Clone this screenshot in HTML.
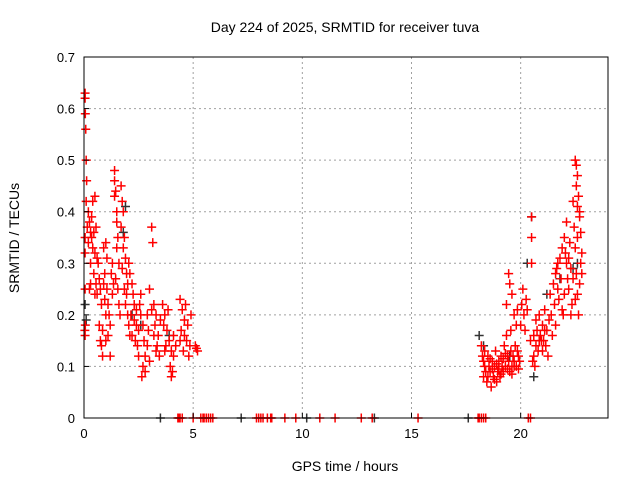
<!DOCTYPE html>
<html><head><meta charset="utf-8"><style>
body{margin:0;background:#fff;}
svg{display:block;font-family:"Liberation Sans",sans-serif;}
</style></head><body>
<svg id="chart" width="640" height="480">
<text x="345" y="32" font-size="14" text-anchor="middle">Day 224 of 2025, SRMTID for receiver tuva</text>
<text x="345" y="471" font-size="14" text-anchor="middle">GPS time / hours</text>
<text transform="translate(19,238) rotate(-90)" font-size="14" text-anchor="middle">SRMTID / TECUs</text>
<g id="grid"></g><g id="marks"></g><g id="axes"></g>
</svg>
<script>
const xTicks=[0,5,10,15,20];
const yTicks=[0,0.1,0.2,0.3,0.4,0.5,0.6,0.7];
const yTickLabels=["0","0.1","0.2","0.3","0.4","0.5","0.6","0.7"];
const blackObs=[[0.05,0.22],[0.1,0.19],[1.8,0.36],[1.9,0.41],[2.2,0.2],[2.6,0.18],[3.9,0.16],[18.1,0.16],[18.3,0.14],[19.5,0.12],[20.3,0.3],[20.5,0.39],[20.6,0.08],[21.2,0.24],[21.8,0.27],[22.4,0.29],[22.6,0.3],[3.5,0],[7.2,0],[13.3,0],[17.6,0],[10.2,0]];
const redObs=[
[0.05,0.63],[0.05,0.62],[0.06,0.59],[0.08,0.56],[0.1,0.5],[0.12,0.46],[0.1,0.42],[0.05,0.35],[0.05,0.32],[0.05,0.25],[0.06,0.18],[0.04,0.17],[0.05,0.16],
[0.2,0.4],[0.25,0.38],[0.3,0.36],[0.35,0.35],[0.4,0.33],[0.3,0.3],[0.45,0.28],[0.25,0.25],[0.5,0.24],[0.4,0.42],[0.5,0.43],[0.55,0.37],[0.6,0.31],
[0.15,0.37],[0.2,0.34],[0.35,0.39],[0.45,0.36],[0.5,0.32],[0.55,0.26],[0.6,0.24],[0.3,0.26],
[0.65,0.3],[0.7,0.27],[0.75,0.25],[0.8,0.22],[0.7,0.18],[0.75,0.15],[0.8,0.14],[0.85,0.12],[0.9,0.26],[0.95,0.28],[1.0,0.34],[0.9,0.33],
[0.95,0.23],[1.0,0.2],[0.85,0.17],[1.0,0.15],[1.05,0.31],
[1.05,0.25],[1.1,0.22],[1.15,0.2],[1.2,0.18],[1.1,0.16],[1.2,0.12],[1.25,0.28],[1.3,0.3],[1.35,0.26],
[1.4,0.48],[1.4,0.46],[1.45,0.44],[1.4,0.43],[1.5,0.4],[1.5,0.38],[1.55,0.35],[1.5,0.33],[1.6,0.3],
[1.3,0.24],[1.45,0.27],[1.55,0.25],[1.6,0.22],[1.65,0.2],
[1.7,0.45],[1.75,0.42],[1.8,0.4],[1.7,0.37],[1.85,0.35],[1.8,0.33],[1.9,0.31],[1.95,0.28],[1.85,0.25],[1.9,0.22],[2.0,0.2],
[1.75,0.29],[2.0,0.26],[1.95,0.24],[2.05,0.18],[2.1,0.16],
[2.05,0.3],[2.1,0.28],[2.2,0.26],[2.25,0.24],[2.3,0.22],[2.15,0.2],[2.4,0.18],[2.35,0.15],[2.45,0.14],[2.5,0.12],
[2.3,0.19],[2.4,0.21],[2.5,0.17],[2.2,0.16],
[2.55,0.22],[2.6,0.2],[2.7,0.18],[2.75,0.15],[2.8,0.12],[2.7,0.1],[2.65,0.08],[2.8,0.09],[2.9,0.14],
[2.6,0.24],[2.9,0.2],[2.95,0.17],[3.0,0.11],
[3.1,0.37],[3.15,0.34],[3.0,0.25],[3.2,0.22],[3.3,0.2],[3.25,0.18],[3.4,0.16],[3.35,0.14],[3.45,0.12],
[3.1,0.21],[3.2,0.16],[3.3,0.13],[3.5,0.19],
[3.6,0.22],[3.7,0.2],[3.65,0.18],[3.8,0.17],[3.9,0.15],[3.75,0.14],[4.0,0.13],[4.1,0.12],[3.95,0.1],[4.0,0.08],[4.05,0.09],
[3.85,0.21],[4.1,0.16],[4.2,0.14],[3.7,0.13],
[4.4,0.23],[4.5,0.21],[4.6,0.19],[4.45,0.17],[4.7,0.15],[4.55,0.13],[4.8,0.12],[4.9,0.2],[4.75,0.18],
[4.6,0.16],[4.85,0.14],[4.4,0.15],[4.65,0.22],
[5.1,0.14],[5.15,0.135],[5.2,0.13],
[4.3,0],[4.35,0],[4.4,0],[4.5,0],[5.0,0],[5.35,0],[5.45,0],[5.5,0],[5.6,0],[5.7,0],[5.8,0],[5.9,0],[7.9,0],[8.0,0],[8.1,0],[8.2,0],[8.4,0],[8.55,0],[8.6,0],[9.2,0],[9.7,0],[10.8,0],[11.5,0],[12.7,0],[13.2,0],[15.3,0],[18.05,0],[18.1,0],[18.2,0],[18.3,0],[18.4,0],[20.35,0],[20.45,0],
[18.2,0.14],[18.25,0.12],[18.3,0.11],[18.35,0.1],[18.4,0.09],[18.3,0.08],[18.45,0.07],[18.5,0.12],[18.55,0.1],[18.6,0.09],[18.65,0.06],[18.7,0.11],[18.75,0.08],[18.8,0.1],[18.85,0.13],[18.9,0.07],[18.95,0.09],[19.0,0.11],[19.05,0.08],[19.1,0.12],[19.15,0.1],[19.2,0.09],[19.25,0.14],[19.3,0.1],[19.35,0.16],[19.4,0.12],[19.45,0.11],[19.5,0.09],[19.55,0.13],[19.6,0.1],[19.65,0.12],[19.7,0.11],[19.75,0.14],[19.8,0.1],[19.9,0.12],[19.95,0.11],
[18.35,0.13],[18.5,0.08],[18.6,0.115],[18.7,0.095],[18.8,0.075],[18.9,0.105],[19.0,0.095],[19.1,0.085],[19.2,0.115],[19.3,0.125],[19.4,0.095],[19.6,0.085],[19.7,0.1],[19.85,0.13],[19.9,0.095],
[19.35,0.22],[19.45,0.28],[19.5,0.26],[19.6,0.24],[19.7,0.2],[19.8,0.18],[19.85,0.21],[19.55,0.17],
[20.0,0.18],[20.05,0.22],[20.1,0.25],[20.15,0.2],[20.2,0.17],[20.25,0.23],[20.3,0.21],[20.45,0.15],[20.5,0.39],[20.5,0.35],[20.5,0.3],[20.55,0.11],[20.6,0.12],[20.65,0.1],[20.7,0.14],[20.75,0.17],[20.8,0.13],[20.85,0.2],[20.9,0.16],[20.95,0.15],
[20.7,0.19],[20.85,0.15],[21.0,0.13],[20.6,0.16],[21.1,0.17],
[21.0,0.18],[21.05,0.15],[21.1,0.21],[21.15,0.14],[21.2,0.17],[21.25,0.12],[21.3,0.19],[21.35,0.24],[21.4,0.2],[21.45,0.16],[21.5,0.26],[21.55,0.22],[21.6,0.18],[21.65,0.29],[21.7,0.25],[21.75,0.23],[21.8,0.31],[21.85,0.27],[21.9,0.21],[21.95,0.2],
[21.6,0.28],[21.7,0.3],[21.9,0.33],[22.0,0.24],
[22.0,0.35],[22.05,0.32],[22.1,0.3],[22.15,0.27],[22.2,0.25],[22.1,0.38],[22.25,0.34],[22.3,0.29],[22.35,0.22],[22.3,0.2],[22.4,0.42],[22.45,0.37],[22.5,0.33],[22.55,0.28],[22.6,0.24],[22.65,0.2],[22.7,0.26],[22.75,0.3],[22.8,0.32],
[22.2,0.31],[22.4,0.27],[22.5,0.23],[22.6,0.35],[22.7,0.4],[22.8,0.28],
[22.5,0.5],[22.55,0.49],[22.6,0.47],[22.55,0.45],[22.65,0.43],[22.6,0.41],[22.7,0.39],[22.75,0.36]
];
const X0=84,X1=608,Y0=418,Y1=57;
const xs=t=>X0+t/24*(X1-X0);
const ys=v=>Y0-v/0.7*(Y0-Y1);
const NS="http://www.w3.org/2000/svg";
function mk(tag,attrs,parent){const e=document.createElementNS(NS,tag);for(const k in attrs)e.setAttribute(k,attrs[k]);parent.appendChild(e);return e;}
const grid=document.getElementById('grid'),marks=document.getElementById('marks'),axes=document.getElementById('axes');
xTicks.forEach(t=>{
 if(t>0){const g=mk('line',{x1:xs(t),x2:xs(t),y1:Y1,y2:Y0,stroke:'#a0a0a0','stroke-dasharray':'2,3'},grid);
 
 }
 const tk=mk('line',{x1:xs(t),x2:xs(t),y1:Y0,y2:Y0-5,stroke:'#000'},axes);
 
 
 const l=mk('text',{x:xs(t),y:Y0+20,'font-size':13,'text-anchor':'middle'},axes);l.textContent=t;
 
 
});
yTicks.forEach((v,i)=>{
 if(v>0&&v<0.7){const g=mk('line',{x1:X0,x2:X1,y1:ys(v),y2:ys(v),stroke:'#a0a0a0','stroke-dasharray':'2,3'},grid);
 
 }
 const tk=mk('line',{x1:X0,x2:X0+5,y1:ys(v),y2:ys(v),stroke:'#000'},axes);
 
 
 const l=mk('text',{x:X0-9,y:ys(v)+5,'font-size':13,'text-anchor':'end'},axes);l.textContent=yTickLabels[i];
 
 
});
const fr=mk('rect',{x:X0,y:Y1,width:X1-X0,height:Y0-Y1,fill:'none',stroke:'#000'},axes);


function plus(t,v,col,name){
 const x=xs(t),y=ys(v);
 const p=mk('path',{d:`M${x-4.5},${y}H${x+4.5}M${x},${y-4.5}V${y+4.5}`,stroke:col,'stroke-width':1.5,fill:'none'},marks);
 
 
}
blackObs.forEach(d=>plus(d[0],d[1],'#333','black-point'));
redObs.forEach(d=>plus(d[0],d[1],'#ff0000','red-point'));
</script>
</body></html>
